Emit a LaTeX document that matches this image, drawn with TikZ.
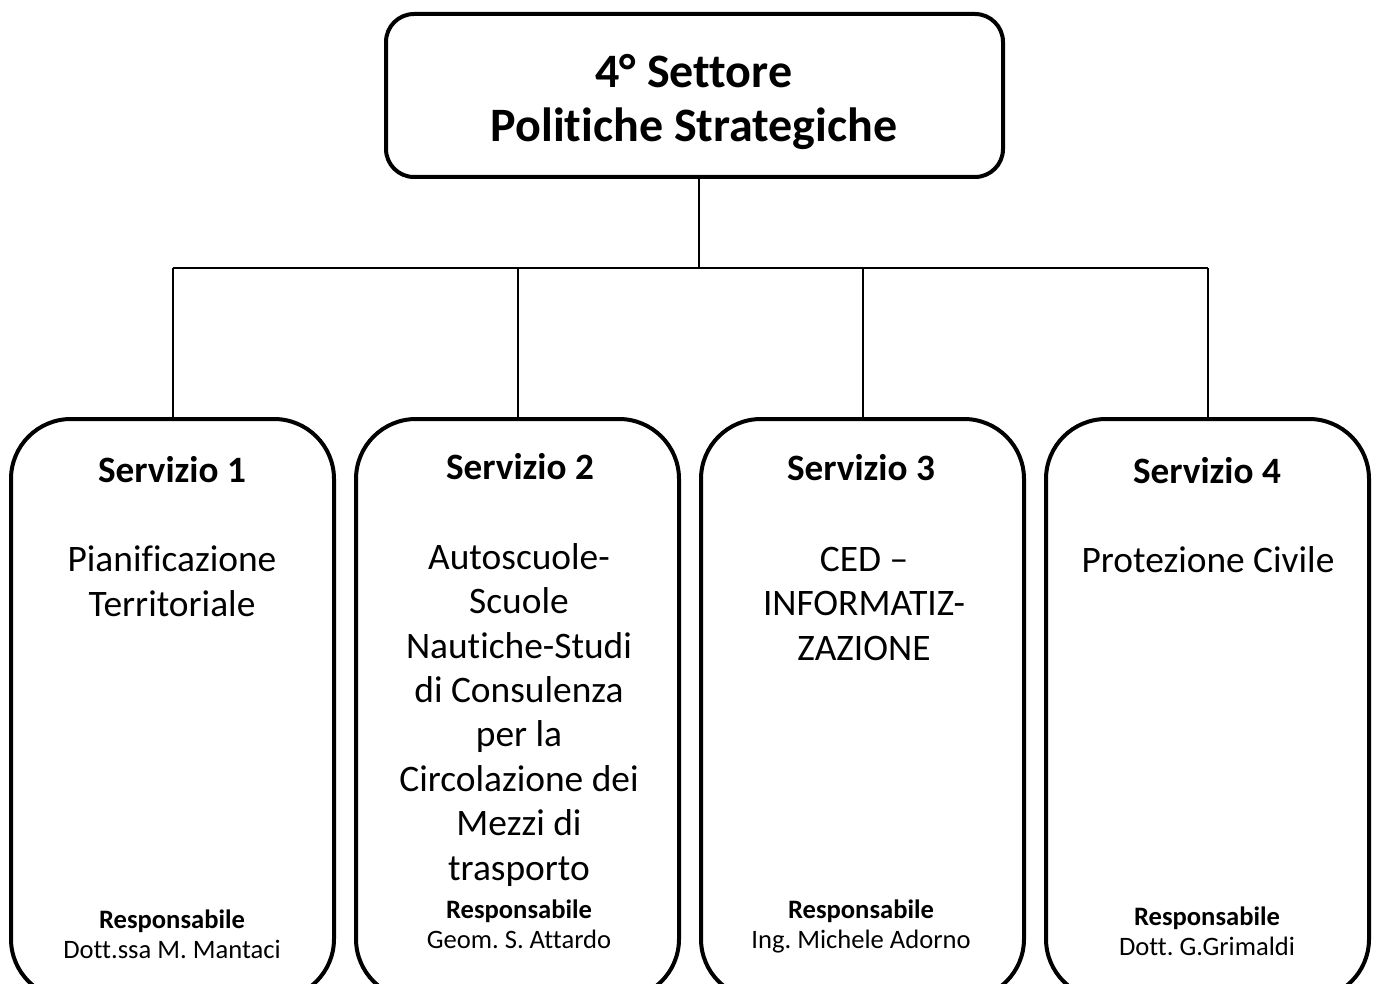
\documentclass[tikz,border=0pt]{standalone}
\usepackage{fontspec}
\setmainfont{Carlito}[Ligatures=NoCommon]
\frenchspacing
\begin{document}
\begin{tikzpicture}[x=0.5pt,y=-0.5pt,
    settore/.style={draw,line width=2pt,rounded corners=14pt,minimum width=308.5pt,minimum height=81.5pt,inner sep=0pt},
    servizio/.style={draw,line width=2pt,rounded corners=30pt,minimum width=161.5pt,minimum height=290pt,inner sep=0pt},
    titolo/.style={font=\fontsize{18.6}{22}\selectfont\bfseries,anchor=base,inner sep=0pt},
    testo/.style={font=\fontsize{18.7}{22.2}\selectfont,align=center,anchor=base,inner sep=0pt},
    resp/.style={font=\fontsize{13.3}{15}\selectfont,align=center,anchor=base,inner sep=0pt}]
  \useasboundingbox (0,0) rectangle (1376,984);
  \clip (0,0) rectangle (1376,984);
  \node[settore] (top) at (694.5,95.5) {};
  \node[font=\fontsize{24}{27}\selectfont\bfseries,align=center,anchor=base,inner sep=0pt] (toptxt) at (694,142)
    {4° Settore\\Politiche Strategiche};
  \node[servizio] (s1) at (172.5,709) {};
  \node[servizio] (s2) at (517.5,709) {};
  \node[servizio] (s3) at (862.5,709) {};
  \node[servizio] (s4) at (1207.5,709) {};
  % titoli
  \node[titolo] (t1) at (172,482) {Servizio 1};
  \node[titolo] (t2) at (520,479) {Servizio 2};
  \node[titolo] (t3) at (861,480) {Servizio 3};
  \node[titolo] (t4) at (1207,483) {Servizio 4};
  % testi
  \node[testo] (d1) at (172,616) {Pianificazione\\Territoriale};
  \node[testo] (d2) at (519,880) {Autoscuole-\\Scuole\\Nautiche-Studi\\di Consulenza\\per la\\Circolazione dei\\Mezzi di\\trasporto};
  \node[testo] (d3) at (864,660) {CED –\\INFORMATIZ-\\ZAZIONE};
  \node[testo] (d4) at (1208,572) {Protezione Civile};
  % responsabili
  \node[resp] (r1) at (172,958) {\textbf{Responsabile}\\Dott.ssa M. Mantaci};
  \node[resp] (r2) at (519,948) {\textbf{Responsabile}\\Geom. S. Attardo};
  \node[resp] (r3) at (861,948) {\textbf{Responsabile}\\Ing. Michele Adorno};
  \node[resp] (r4) at (1207,955) {\textbf{Responsabile}\\Dott. G.Grimaldi};
  \coordinate (hub) at (699,268);
  \begin{scope}[line width=1pt]
    \draw (top.south -| hub) -- (hub);
    \draw (s1.north |- hub) -- (s4.north |- hub);
    \draw (s1.north |- hub) -- (s1.north);
    \draw (s2.north |- hub) -- (s2.north);
    \draw (s3.north |- hub) -- (s3.north);
    \draw (s4.north |- hub) -- (s4.north);
  \end{scope}
\end{tikzpicture}
\end{document}
